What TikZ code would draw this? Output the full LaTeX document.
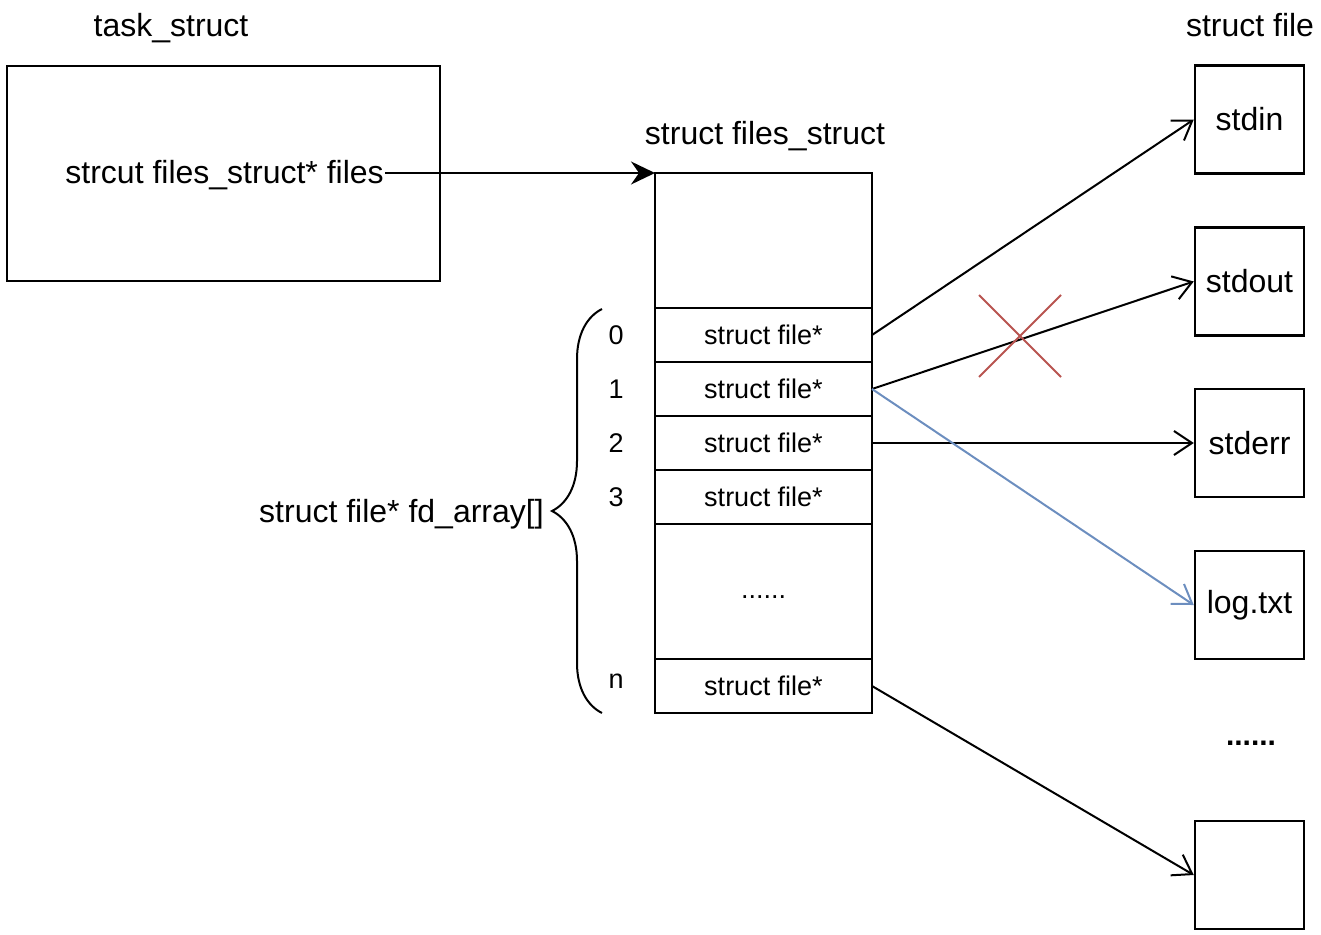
\documentclass[tikz,border=0pt]{standalone}
\usepackage{fontspec}
\setmainfont{Liberation Sans}
\usetikzlibrary{positioning,arrows.meta,decorations.pathreplacing,shapes.misc}
\definecolor{crossred}{HTML}{B85450}
\definecolor{linkblue}{HTML}{6C8EBF}

\begin{document}
\begin{tikzpicture}[x=1pt, y=-1pt, line width=2.5pt,
    big/.style = {font=\fontsize{32}{38}\selectfont},
    small/.style = {font=\fontsize{27}{32}\selectfont},
    cell/.style = {draw, small, minimum width=217, minimum height=54, outer sep=0pt},
    filebox/.style = {draw, big, minimum width=109, minimum height=108, inner sep=0pt},
    ptr/.style = {line width=2pt, -{Straight Barb[length=18pt, width=24pt]}},
    idx/.style = {small, inner sep=0pt}]
        \useasboundingbox (0,0) rectangle (1321,934);

        \node[big] (tasklbl) at (171,28) {task\_struct};
        \node[draw, minimum width=433, minimum height=215] (task) at (223.5,173.5) {};
        \node[big, anchor=east, inner sep=0pt] (files) at (385,175) {strcut files\_struct* files};

        \node[big] (fslbl) at (765,136) {struct files\_struct};
        \node[draw, minimum width=217, minimum height=135, outer sep=0pt] (hdr) at (763.5,240.5) {};
        \node[cell, below=0pt of hdr] (r0) {struct file*};
        \node[cell, below=0pt of r0] (r1) {struct file*};
        \node[cell, below=0pt of r1] (r2) {struct file*};
        \node[cell, below=0pt of r2] (r3) {struct file*};
        \node[cell, below=0pt of r3, minimum height=135] (more) {\raisebox{-7pt}[0pt][0pt]{......}};
        \node[cell, below=0pt of more] (rn) {struct file*};

        \node[idx, left=30pt of r0] (i0) {0};
        \node[idx, left=30pt of r1] (i1) {1};
        \node[idx, left=30pt of r2] (i2) {2};
        \node[idx, left=30pt of r3] (i3) {3};
        \node[idx, left=30pt of rn, yshift=5pt] (in) {n};

        % fd_array brace
        \coordinate (bbot) at (602,713);
        \coordinate (btop) at (602,309);
        \draw[line width=2pt, decorate, decoration={brace, amplitude=50pt}] (bbot) -- (btop);
        \node[big, anchor=east, inner sep=0pt] (arrlbl) at (545,514) {struct file* fd\_array[]};

        \node[big] (sflbl) at (1250,25) {struct file};
        \node[filebox] (stdin) at (1249.5,119.5) {stdin};
        \node[filebox] (stdout) at (1249.5,281.5) {stdout};
        \node[filebox] (stderr) at (1249.5,443) {stderr};
        \node[filebox] (log) at (1249.5,605) {log.txt};
        \node[font=\fontsize{30}{36}\selectfont\bfseries] (etc) at (1251,743) {......};
        \node[filebox] (last) at (1249.5,875) {};

        \draw[line width=2pt, -{Stealth[length=24pt, width=23pt, inset=8pt]}] (hdr.north west -| files.east) -- (hdr.north west);
        \draw[ptr] (r0.east) -- (stdin.west);
        \draw[ptr] (r1.east) -- (stdout.west);
        \draw[ptr] (r2.east) -- (stderr.west);
        \draw[ptr, linkblue] (r1.east) -- (log.west);
        \draw[ptr] (rn.east) -- (last.west);

        \node[cross out, draw=crossred, line width=2pt, minimum size=80pt, inner sep=0pt] (cut) at (1020,336) {};
    \end{tikzpicture}
\end{document}
